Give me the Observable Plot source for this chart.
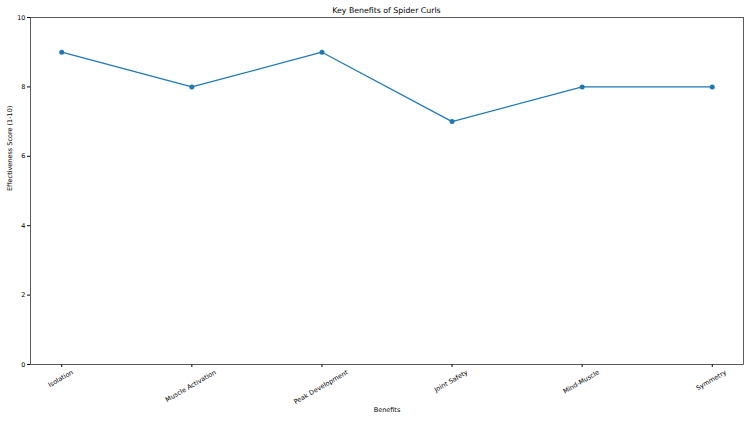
<!DOCTYPE html>
<html>
<head>
<meta charset="utf-8">
<script src="https://cdn.jsdelivr.net/npm/d3@7"></script>
<script src="https://cdn.jsdelivr.net/npm/@observablehq/plot@0.6"></script>
<style>
  body { margin: 0; background: white; font-family: "DejaVu Sans", sans-serif; }
  #title { width: 750px; box-sizing: border-box; padding: 5px 7px 0 30px; height: 17px; line-height: 12px; font-size: 7.8px; text-align: center; color: #000; }
</style>
</head>
<body>
<div id="title">Key Benefits of Spider Curls</div>
<div id="chart"></div>
<script>
const categories = ["Isolation", "Muscle Activation", "Peak Development", "Joint Safety", "Mind-Muscle", "Symmetry"];
const scores = [9, 8, 9, 7, 8, 8];
const yTicks = [0, 2, 4, 6, 8, 10];
const xLabel = "Benefits";
const yLabel = "Effectiveness Score (1-10)";

const data = categories.map((c, i) => ({benefit: c, score: scores[i]}));
const color = "#1f77b4";
const fs = 6.5;

// measure label widths to mimic matplotlib's top-aligned rotated bbox
const ctx = document.createElement("canvas").getContext("2d");
ctx.font = `${fs}px "DejaVu Sans"`;
const labelMarks = categories.map(c => {
  const w = ctx.measureText(c).width;
  const dy = 6 + (w * 0.5 + fs * 1.1 * 0.866) / 2;
  return Plot.text([c], {x: d => d, frameAnchor: "bottom", dy, rotate: -30, textAnchor: "middle", fontSize: fs, fill: "#000"});
});

const chart = Plot.plot({
  width: 750,
  height: 405,
  marginTop: 0,
  marginLeft: 30,
  marginRight: 7,
  marginBottom: 58,
  style: {fontFamily: "DejaVu Sans, sans-serif", fontSize: fs + "px", color: "#000", overflow: "visible", background: "white"},
  x: {type: "point", domain: categories, padding: 0.24, round: false, label: null},
  y: {domain: [0, 10], label: null},
  marks: [
    Plot.axisY({ticks: yTicks, tickSize: 3, tickPadding: 2, label: null, fontSize: fs}),
    Plot.axisX({tickSize: 3, tickFormat: () => "", label: null}),
    ...labelMarks,
    Plot.text([xLabel], {frameAnchor: "bottom", dy: 47, text: d => d, fontSize: fs, fill: "#000"}),
    Plot.text([yLabel], {frameAnchor: "left", dx: -21, rotate: -90, text: d => d, fontSize: fs, fill: "#000"}),
    Plot.frame({stroke: "#333", strokeWidth: 0.8}),
    Plot.line(data, {x: "benefit", y: "score", stroke: color, strokeWidth: 1.2}),
    Plot.dot(data, {x: "benefit", y: "score", fill: color, r: 2.5, stroke: "none"})
  ]
});
document.getElementById("chart").appendChild(chart);
</script>
</body>
</html>
